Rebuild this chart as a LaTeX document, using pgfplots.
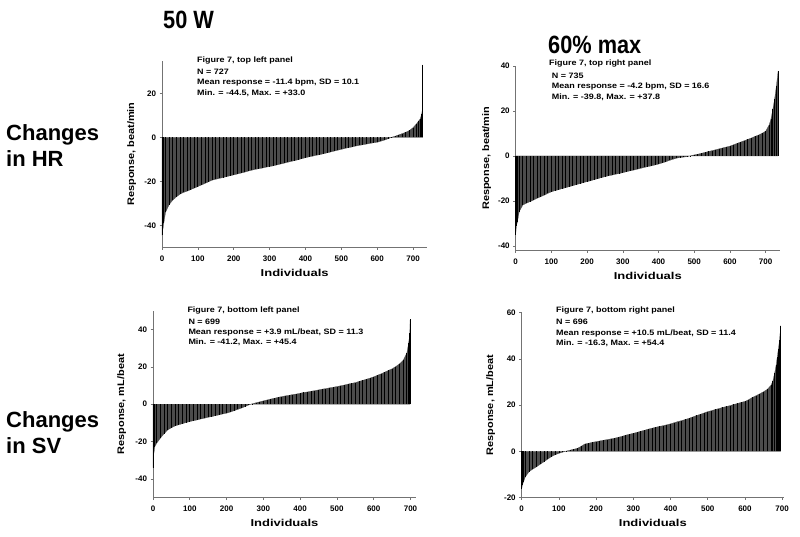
\documentclass[border=0pt]{standalone}
\usepackage{fontspec}
\setmainfont{Liberation Sans}
\usepackage{graphicx}
\usepackage{pgfplots}
\usepackage{pgfplotstable}
\pgfplotsset{compat=1.18}

\pgfplotstableread{
x y
0 -44.5
1 -43.5
5 -39
10 -34
20 -30.5
30 -28.5
40 -27
50 -25.8
60 -25
70 -24.4
80 -23.7
90 -23
100 -22.3
110 -21.6
120 -20.9
130 -20.1
140 -19.4
150 -19
160 -18.6
170 -18.2
180 -17.8
190 -17.4
200 -17
210 -16.6
220 -16.2
230 -15.8
240 -15.3
250 -14.9
260 -14.5
270 -14.2
280 -13.9
290 -13.5
300 -13.2
310 -12.9
320 -12.5
330 -12.1
340 -11.7
350 -11.3
360 -10.9
370 -10.5
380 -10.1
390 -9.6
400 -9.2
410 -8.8
420 -8.5
430 -8.1
440 -7.8
450 -7.4
460 -7.0
470 -6.6
480 -6.2
490 -5.8
500 -5.4
510 -5.0
520 -4.6
530 -4.3
540 -3.9
550 -3.6
560 -3.3
570 -3.0
580 -2.7
590 -2.4
600 -2.2
610 -1.7
620 -1.2
630 -0.6
640 0.1
650 0.6
660 1.2
670 1.8
680 2.4
690 3.2
700 4.5
710 6.3
715 7.4
720 8.5
724 10.5
726 13
727 33
}\tl

\pgfplotstableread{
x y
0 -35
2 -31
5 -29.2
10 -24.7
20 -21.8
30 -21
40 -20.3
50 -19.6
60 -18.8
70 -18.1
80 -17.4
90 -16.6
100 -15.9
110 -15.4
120 -15
130 -14.5
140 -14.1
150 -13.6
160 -13.2
170 -12.7
180 -12.3
190 -11.8
200 -11.4
210 -11
220 -10.5
230 -10.1
240 -9.6
250 -9.2
260 -8.8
270 -8.5
280 -8.1
290 -7.8
300 -7.4
310 -7
320 -6.6
330 -6.3
340 -5.9
350 -5.5
360 -5.1
370 -4.7
380 -4.4
390 -4
400 -3.6
410 -3.1
420 -2.6
430 -2
440 -1.5
450 -1
460 -0.7
470 -0.5
480 -0.3
490 0.1
500 0.5
510 0.8
520 1.2
530 1.6
540 2
550 2.4
560 2.8
570 3.2
580 3.6
590 4
600 4.4
610 5
620 5.6
630 6.2
640 6.8
650 7.4
660 8
670 8.7
680 9.3
690 10.1
700 11
710 13.9
715 16.5
720 20.7
725 25.2
730 31
735 37.8
}\tr

\pgfplotstableread{
x y
0 -34
2 -27
5 -22.7
10 -20.9
20 -18.2
30 -15.8
40 -13.8
50 -12.6
60 -11.6
70 -11
80 -10.4
90 -9.8
100 -9.3
110 -8.8
120 -8.4
130 -7.9
140 -7.5
150 -7
160 -6.6
170 -6.1
180 -5.7
190 -5.2
200 -4.8
210 -4.2
220 -3.5
230 -2.8
240 -2.1
250 -1.3
260 -0.4
270 0.3
280 0.8
290 1.3
300 1.8
310 2.3
320 2.8
330 3.2
340 3.7
350 4.1
360 4.5
370 4.8
380 5.2
390 5.5
400 5.9
410 6.3
420 6.6
430 7
440 7.3
450 7.7
460 8.1
470 8.4
480 8.8
490 9.1
500 9.5
510 9.9
520 10.3
530 10.8
540 11.2
550 11.6
560 12.2
570 12.8
580 13.4
590 14
600 14.7
610 15.5
620 16.3
630 17.2
640 18.1
650 19
660 20.2
670 21.6
680 23.5
690 27.4
695 32.8
698 38
699 45.4
}\bl

\pgfplotstableread{
x y
0 -16.3
2 -14.5
5 -13.2
10 -11
20 -8.8
30 -7.7
40 -6.7
50 -5.6
60 -4.5
70 -3.4
80 -2.3
90 -1.5
100 -0.9
110 -0.4
120 0.1
130 0.5
140 0.9
150 1.3
160 2.2
170 3.2
180 3.5
190 3.9
200 4.2
210 4.5
220 4.8
230 5.1
240 5.4
250 5.7
260 6.1
270 6.5
280 7
290 7.4
300 7.8
310 8.2
320 8.7
330 9.1
340 9.6
350 10
360 10.4
370 10.8
380 11.1
390 11.5
400 11.9
410 12.4
420 12.9
430 13.3
440 13.8
450 14.3
460 14.9
470 15.5
480 16
490 16.6
500 17.2
510 17.6
520 18.1
530 18.5
540 19
550 19.4
560 19.8
570 20.3
580 20.7
590 21.2
600 21.6
610 22.4
620 23.3
630 24.1
640 24.9
650 25.8
660 26.8
670 28.6
675 30.5
680 34
684 37.5
687 41
690 44.5
693 48.2
696 54.4
}\br

\definecolor{axgray}{gray}{0.45}
\definecolor{barfill}{gray}{0.30}

\pgfplotsset{
  panel/.style={
    scale only axis,
    anchor=south west,
    axis lines*=left,
    axis line style={axgray, line width=0.6pt},
    xmin=0, xtick={0,100,...,700},
    tick align=outside,
    tick style={axgray, line width=0.6pt},
    major tick length=2.5pt,
    tick label style={font=\fontsize{8}{8}\selectfont\bfseries},
    xticklabel style={yshift=-2pt},
    /pgf/number format/assume math mode=true,
    xlabel={\scalebox{1.3}[1]{Individuals}},
    xlabel style={font=\fontsize{10}{10}\selectfont\bfseries,
      at={(axis description cs:0.5,0)}, anchor=center, yshift=-25pt},
    ylabel style={font=\fontsize{9.5}{9.5}\selectfont\bfseries, anchor=center},
    clip=false,
  },
}

\newcommand{\annfont}{\fontsize{7.8}{8}\selectfont\bfseries}
\newcommand{\ann}[3]{\node[anchor=base west, inner sep=0pt, font=\annfont] at (#1pt,#2pt) {\scalebox{1.15}[1]{#3}};}
\newcommand{\bigfont}{\fontsize{22}{22}\selectfont\bfseries}
\newcommand{\titfont}{\fontsize{25}{25}\selectfont\bfseries}

\begin{document}
\begin{tikzpicture}
\path (0pt,0pt) rectangle (800pt,537pt);

% column titles
\node[anchor=base west, inner sep=0pt, font=\titfont] at (163pt,508pt) {\scalebox{0.87}[1]{50 W}};
\node[anchor=base west, inner sep=0pt, font=\titfont] at (548pt,483pt) {\scalebox{0.87}[1]{60\% max}};

% row titles
\node[anchor=base west, inner sep=0pt, font=\bigfont] at (6pt,396.3pt) {Changes};
\node[anchor=base west, inner sep=0pt, font=\bigfont] at (6pt,370.3pt) {in HR};
\node[anchor=base west, inner sep=0pt, font=\bigfont] at (6pt,109pt) {Changes};
\node[anchor=base west, inner sep=0pt, font=\bigfont] at (6pt,83pt) {in SV};

% top left
\begin{axis}[panel, at={(162pt,289.5pt)}, width=265.4pt, height=187pt,
  xmax=740, ymin=-50, ymax=35, ytick={-40,-20,0,20},
  ylabel={\scalebox{1.15}[1]{Response, beat/min}},
  ylabel style={at={([xshift=-30.3pt]axis description cs:0,0.5)}}]
  \addplot[fill=barfill, draw=barfill, line width=0.2pt, mark=none] table {\tl} \closedcycle;
  \addplot[ycomb, black, line width=0.8pt, mark=none] table {\tl};
\end{axis}

% top right
\begin{axis}[panel, at={(515.7pt,286.5pt)}, width=264.2pt, height=184.5pt,
  xmax=740, ymin=-42, ymax=40, ytick={-40,-20,0,20,40},
  ylabel={\scalebox{1.15}[1]{Response, beat/min}},
  ylabel style={at={([xshift=-29pt]axis description cs:0,0.5)}}]
  \addplot[fill=barfill, draw=barfill, line width=0.2pt, mark=none] table {\tr} \closedcycle;
  \addplot[ycomb, black, line width=0.8pt, mark=none] table {\tr};
\end{axis}

% bottom left
\begin{axis}[panel, at={(153pt,39.4pt)}, width=263pt, height=186.7pt,
  xmax=715, ymin=-50, ymax=50, ytick={-40,-20,0,20,40},
  ylabel={\scalebox{1.15}[1]{Response, mL/beat}},
  ylabel style={at={([xshift=-31.3pt]axis description cs:0,0.5)}}]
  \addplot[fill=barfill, draw=barfill, line width=0.2pt, mark=none] table {\bl} \closedcycle;
  \addplot[ycomb, black, line width=0.8pt, mark=none] table {\bl};
\end{axis}

% bottom right
\begin{axis}[panel, at={(521.7pt,39.5pt)}, width=262.3pt, height=184.8pt,
  xmax=705, ymin=-20, ymax=60, ytick={-20,0,20,40,60},
  ylabel={\scalebox{1.15}[1]{Response, mL/beat}},
  ylabel style={at={([xshift=-31pt]axis description cs:0,0.5)}}]
  \addplot[fill=barfill, draw=barfill, line width=0.2pt, mark=none] table {\br} \closedcycle;
  \addplot[ycomb, black, line width=0.8pt, mark=none] table {\br};
\end{axis}

% panel annotations
\ann{197}{474.5}{Figure 7, top left panel}
\ann{197}{462.5}{N = 727}
\ann{197}{452}{Mean response = -11.4 bpm, SD = 10.1}
\ann{197}{441.5}{Min. = -44.5, Max. = +33.0}

\ann{549}{471}{Figure 7, top right panel}
\ann{551.7}{458.5}{N = 735}
\ann{551.7}{448}{Mean response = -4.2 bpm, SD = 16.6}
\ann{551.7}{437.5}{Min. = -39.8, Max. = +37.8}

\ann{187.3}{224.2}{Figure 7, bottom left panel}
\ann{188.3}{212.2}{N = 699}
\ann{188.3}{202}{Mean response = +3.9 mL/beat, SD = 11.3}
\ann{188.3}{192}{Min. = -41.2, Max. = +45.4}

\ann{556}{224.2}{Figure 7, bottom right panel}
\ann{556}{212.2}{N = 696}
\ann{556}{201.5}{Mean response = +10.5 mL/beat, SD = 11.4}
\ann{556}{191.5}{Min. = -16.3, Max. = +54.4}
\end{tikzpicture}
\end{document}
